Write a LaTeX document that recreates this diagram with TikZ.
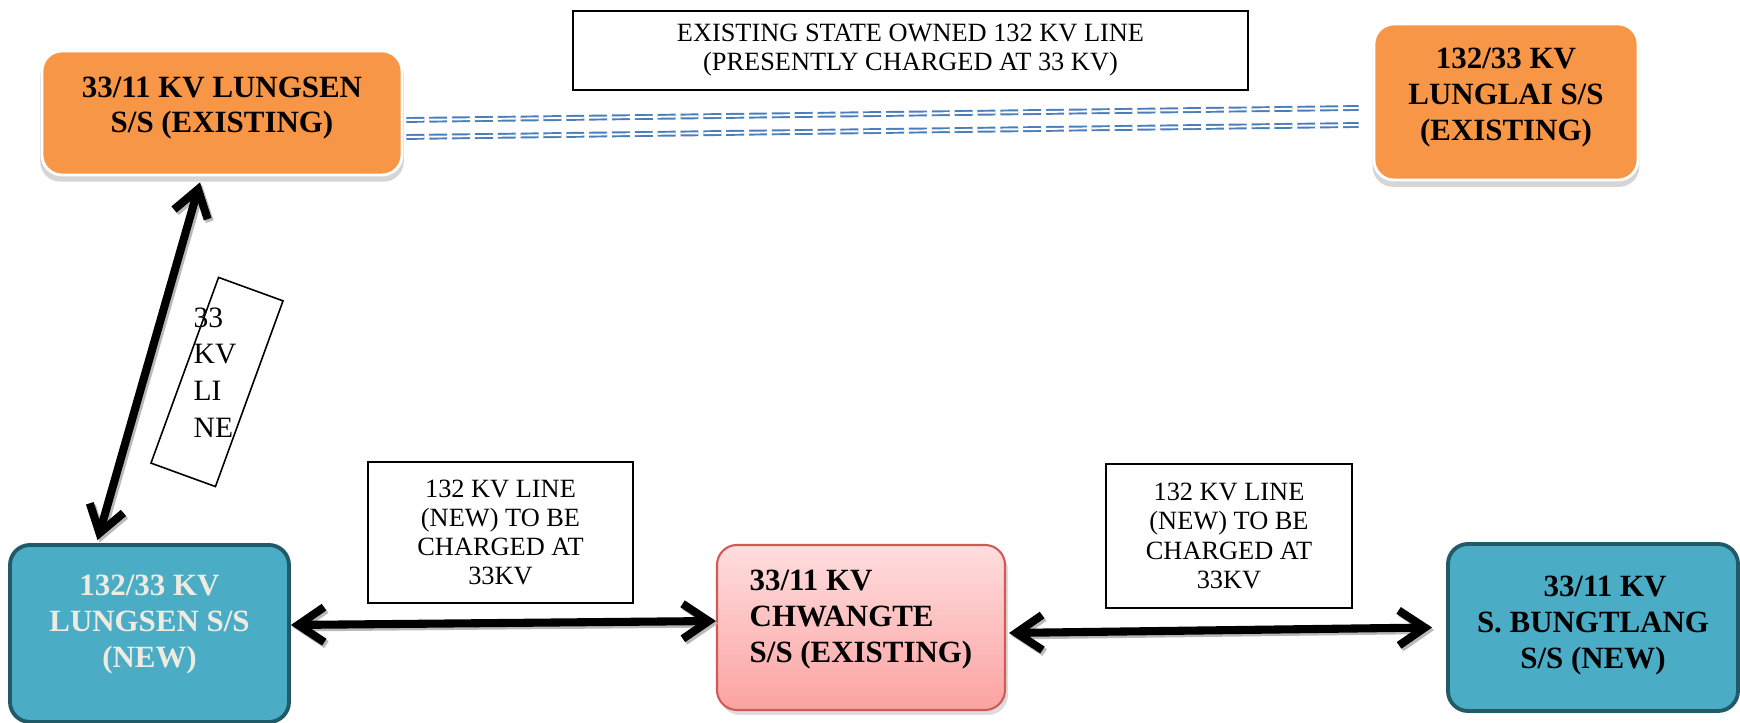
\documentclass[tikz,border=0pt]{standalone}
\usepackage{fontspec}
\setmainfont{Liberation Serif}
\usetikzlibrary{arrows.meta,shadows}

\definecolor{ssorange}{HTML}{F79646}
\definecolor{ssblue}{HTML}{4BACC6}
\definecolor{ssblueline}{HTML}{215A69}
\definecolor{sscream}{HTML}{EEECE1}
\definecolor{sspinktop}{HTML}{FFDDDE}
\definecolor{sspinkbot}{HTML}{FBA3A2}
\definecolor{sspinkline}{HTML}{CF5A56}
\definecolor{ssdash}{HTML}{4A7EBB}

\begin{document}
\begin{tikzpicture}[x=1mm, y=1mm]
    \tikzstyle{every node}+=[inner sep=0pt]
    \tikzstyle{boxfont}=[font=\fontsize{8.8}{10.2}\selectfont\bfseries]
    \tikzstyle{notefont}=[font=\fontsize{7.5}{8.3}\selectfont]
    \tikzstyle{stationtext}=[boxfont, align=center]
    \tikzstyle{oldstation}=[rectangle, rounded corners=2mm, fill=ssorange, draw=white, line width=0.8pt, drop shadow={shadow xshift=0pt, shadow yshift=-0.6mm, shadow scale=1.01, fill=gray!65}]
    \tikzstyle{newstation}=[rectangle, rounded corners=2mm, fill=ssblue, draw=ssblueline, line width=1.1pt]
    \tikzstyle{pinkstation}=[rectangle, rounded corners=2mm, top color=sspinktop, bottom color=sspinkbot, draw=sspinkline, line width=0.6pt, drop shadow={shadow xshift=0.3mm, shadow yshift=-0.5mm, fill=gray!55}]
    \tikzstyle{note}=[rectangle, draw=black, line width=0.45pt, fill=white, notefont, align=center]
    \tikzstyle{barbs}=[{Straight Barb[length=2.6mm,width=3.5mm]}-{Straight Barb[length=2.6mm,width=3.5mm]}]
    \tikzstyle{feedershadow}=[draw=gray!55, line width=2.3pt, barbs, transform canvas={xshift=0.6pt,yshift=-0.7pt}]
    \tikzstyle{feeder}=[black, line width=2.3pt, barbs, preaction={feedershadow}]
    \tikzstyle{oldline}=[draw=ssdash, line width=0.55pt, double=white, double distance=0.55pt, dash pattern=on 5.1pt off 1.4pt]
    \useasboundingbox (0,0) rectangle (174,-72.3);
    % substations
    \node [oldstation, minimum width=36mm, minimum height=12.4mm, label={[stationtext, yshift=0.5mm]center:33/11 KV LUNGSEN\\S/S (EXISTING)}] (lungsenold) at (22.2,-11.3) {};
    \node [oldstation, minimum width=26.4mm, minimum height=15.6mm, label={[stationtext, yshift=0.45mm]center:132/33 KV\\LUNGLAI S/S\\(EXISTING)}] (lunglai) at (150.6,-10.2) {};
    \node [newstation, minimum width=27.9mm, minimum height=17.7mm, label={[stationtext, text=sscream, yshift=0.9mm]center:132/33 KV\\LUNGSEN S/S\\(NEW)}] (lungsennew) at (14.95,-63.35) {};
    \node [pinkstation, minimum width=28.8mm, minimum height=16.5mm, label={[stationtext, align=left, yshift=0.8mm]center:33/11 KV\\CHWANGTE\\S/S (EXISTING)}] (chwangte) at (86.1,-62.75) {};
    \node [newstation, minimum width=29mm, minimum height=16.7mm, label={[stationtext, yshift=0.2mm]center:\hspace*{2.4mm}33/11 KV\\S. BUNGTLANG\\S/S (NEW)}] (bungtlang) at (159.3,-62.75) {};
    % line notes
    \node [note, line width=0.6pt, minimum width=67.5mm, minimum height=7.9mm] (statenote) at (91.05,-5.05) {EXISTING STATE OWNED 132 KV LINE\\(PRESENTLY CHARGED AT 33 KV)};
    \node [note, minimum width=26.5mm, minimum height=14.1mm] (newnoteleft) at (50.05,-53.25) {132 KV LINE\\(NEW) TO BE\\CHARGED AT\\33KV};
    \node [note, minimum width=24.6mm, minimum height=14.4mm] (newnoteright) at (122.9,-53.6) {132 KV LINE\\(NEW) TO BE\\CHARGED AT\\33KV};
    \node [note, fill=none, rotate=-20, minimum width=6.86mm, minimum height=19.76mm] (kvframe) at (21.7,-38.2) {};
    \node [anchor=west, align=left, font=\fontsize{8.4}{10.4}\selectfont] (kvtext) at (19.3,-37.25) {33\\KV\\LI\\NE};
    % existing line
    \draw [oldline] ([xshift=0.3mm,yshift=-0.7mm]lungsenold.east) -- ([xshift=-1.4mm,yshift=-0.6mm]lunglai.west);
    \draw [oldline] ([xshift=0.3mm,yshift=-2.4mm]lungsenold.east) -- ([xshift=-1.4mm,yshift=-2.3mm]lunglai.west);
    % feeders
    \draw [feeder] ([xshift=-2.2mm,yshift=-0.6mm]lungsenold.south) -- ([xshift=-5.2mm,yshift=0.3mm]lungsennew.north);
    \draw [feeder] ([yshift=0.85mm]lungsennew.east) -- ([yshift=0.65mm]chwangte.west);
    \draw [feeder] ([xshift=0.3mm,yshift=-0.55mm]chwangte.east) -- ([xshift=-1.4mm]bungtlang.west);
\end{tikzpicture}
\end{document}
